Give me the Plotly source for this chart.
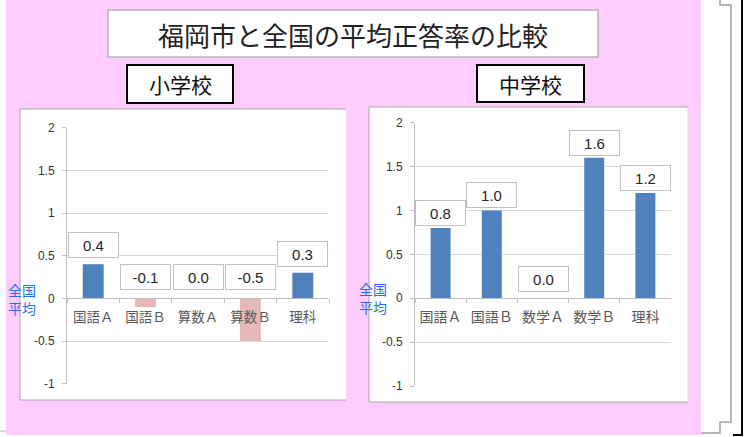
import plotly.graph_objects as go

W, H = 747, 437

# ---------------- data ----------------
title_text = "福岡市と全国の平均正答率の比較"
elem_label = "小学校"
junior_label = "中学校"
elem_categories = ["国語Ａ", "国語Ｂ", "算数Ａ", "算数Ｂ", "理科"]
elem_values = [0.4, -0.1, 0.0, -0.5, 0.3]
junior_categories = ["国語Ａ", "国語Ｂ", "数学Ａ", "数学Ｂ", "理科"]
junior_values = [0.8, 1.0, 0.0, 1.6, 1.2]
y_tickvals = [-1, -0.5, 0, 0.5, 1, 1.5, 2]
y_ticktext = ["-1", "-0.5", "0", "0.5", "1", "1.5", "2"]
baseline_label = "全国<br>平均"

# ---------------- styles ----------------
POS = "#4f81bd"
NEG = "#e6b9b8"
PINK = "#ffccff"
GRID = "#d9d9d9"
AXIS = "#bfbfbf"
JP = "Noto Sans CJK JP"
NUM = "Liberation Sans, Noto Sans CJK JP"


def px(x):
    return x / W


def py(y):
    return 1 - y / H


# plot-area domains (pixel based)
L_X = [px(67), px(329)]
L_Y = [py(383.7), py(127.7)]
R_X = [px(415), px(671)]
R_Y = [py(386), py(122.7)]
YR = [-1, 2]


def zero_pos(dom):
    return dom[0] + (dom[1] - dom[0]) * (0 - YR[0]) / (YR[1] - YR[0])


fig = go.Figure()

fig.add_trace(go.Bar(
    x=elem_categories, y=elem_values, width=0.4,
    marker=dict(color=[POS if v > 0 else NEG for v in elem_values], line=dict(width=0)),
    xaxis="x", yaxis="y", showlegend=False, hoverinfo="skip"))
fig.add_trace(go.Bar(
    x=junior_categories, y=junior_values, width=0.39,
    marker=dict(color=[POS if v > 0 else NEG for v in junior_values], line=dict(width=0)),
    xaxis="x2", yaxis="y2", showlegend=False, hoverinfo="skip"))


def xaxis_cfg(dom, ydom, fs):
    return dict(domain=dom, anchor="free", position=zero_pos(ydom), type="category",
                range=[-0.5, 4.5], showline=True, linecolor=AXIS, linewidth=1,
                ticks="outside", tickson="boundaries", ticklen=4, tickcolor=AXIS,
                tickfont=dict(family=JP, size=fs, color="#595959"), automargin=False,
                ticklabelstandoff=6, showgrid=False, zeroline=False, fixedrange=True)


def yaxis_cfg(dom, anchor):
    return dict(domain=dom, anchor=anchor, range=YR, tickvals=y_tickvals,
                ticktext=y_ticktext, showgrid=True, gridcolor=GRID, gridwidth=1,
                zeroline=True, zerolinecolor=AXIS, zerolinewidth=1, automargin=False,
                showline=True, linecolor=AXIS, linewidth=1, ticks="outside",
                ticklen=4, tickcolor=AXIS, ticklabelstandoff=5,
                tickfont=dict(family=NUM, size=12, color="#333333"), fixedrange=True)


annotations = []


def data_labels(cats, vals, xr, yr, pos_shift, zero_shift):
    for c, v in zip(cats, vals):
        annotations.append(dict(
            x=c, y=max(v, 0), xref=xr, yref=yr, text=f"{v:.1f}", showarrow=False,
            xanchor="center", yanchor="bottom", yshift=pos_shift if v > 0 else zero_shift,
            bgcolor="white", bordercolor="#c0c0c0", borderwidth=1, borderpad=1,
            width=47, height=22, valign="middle",
            font=dict(family=NUM, size=15, color="#262626")))


data_labels(elem_categories, elem_values, "x", "y", 6, 8)
data_labels(junior_categories, junior_values, "x2", "y2", 2, 6)


def label(x, y, text, size, color, align="center"):
    return dict(x=px(x), y=py(y), xref="paper", yref="paper", text=text, showarrow=False,
                xanchor="center", yanchor="middle", align=align,
                font=dict(family=JP, size=size, color=color))


annotations += [
    label(353, 35, title_text, 26, "#222222"),
    label(180, 84, elem_label, 21, "#111111"),
    label(530, 84, junior_label, 21, "#111111"),
    label(22, 299, baseline_label, 14, "#1f6fff", "left"),
    label(373, 298, baseline_label, 14, "#1f6fff", "left"),
]


def rect(x0, y0, x1, y1, fill, line=None, lw=0):
    return dict(type="rect", xref="paper", yref="paper", x0=px(x0), x1=px(x1),
                y0=py(y1), y1=py(y0), fillcolor=fill, layer="below",
                line=dict(color=line or fill, width=lw))


def path(points, color, lw):
    d = "M " + " L ".join(f"{px(a)},{py(b)}" for a, b in points)
    return dict(type="path", xref="paper", yref="paper", path=d, layer="below",
                line=dict(color=color, width=lw))


shapes = [
    rect(6, 0, 701, 435, PINK),
    rect(20, 109, 346, 400, "white"),
    path([(346, 109), (20, 109), (20, 400), (346, 400)], "#a6a6a6", 1),
    rect(369, 107, 688, 402, "white"),
    path([(688, 107), (369, 107), (369, 402), (688, 402)], "#a6a6a6", 1),
    path([(688, 107), (688, 402)], "#e0e0e0", 1),
    rect(108, 10, 598, 57, "white", "#b3b3b3", 1.5),
    rect(127, 65, 233, 103, "white", "#000000", 2),
    rect(477, 65, 584, 102, "white", "#000000", 2),
    path([(720, 0), (720, 5), (731, 5), (731, 422), (720, 422), (720, 433), (701, 433)], "#a0a0a0", 1.5),
    path([(742, 0), (742, 435), (733, 435)], "#000000", 2),
    path([(0, 431), (6, 431)], "#b0b0b0", 1),
]

fig.update_layout(
    width=W, height=H, margin=dict(l=0, r=0, t=0, b=0, autoexpand=False),
    paper_bgcolor="white", plot_bgcolor="rgba(0,0,0,0)",
    xaxis=xaxis_cfg(L_X, L_Y, 13.5), yaxis=yaxis_cfg(L_Y, "x"),
    xaxis2=xaxis_cfg(R_X, R_Y, 14), yaxis2=yaxis_cfg(R_Y, "x2"),
    bargap=0.6, annotations=annotations, shapes=shapes, showlegend=False,
)

fig.write_html("out.html")
